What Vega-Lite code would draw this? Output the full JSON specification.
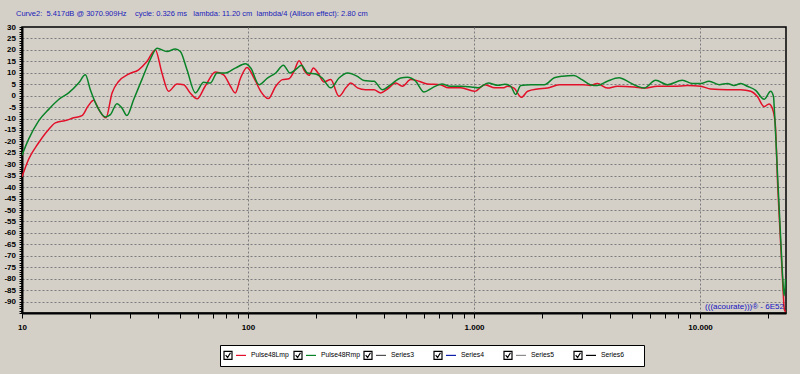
{
  "$schema": "https://vega.github.io/schema/vega-lite/v6.json",
  "autosize": "none",
  "padding": {"left": 22, "top": 27, "right": 14, "bottom": 61},
  "width": 764,
  "height": 286,
  "background": "#d4d0c8",
  "title": {
    "text": "Curve2:\u00a0 5.417dB @ 3070.909Hz\u00a0\u00a0\u00a0 cycle: 0.326 ms\u00a0\u00a0 lambda: 11.20 cm\u00a0 lambda/4 (Allison effect): 2.80 cm",
    "anchor": "start",
    "frame": "group",
    "dx": -6,
    "offset": 6,
    "font": "Liberation Sans",
    "fontSize": 7.5,
    "fontWeight": "normal",
    "color": "#1c1cb8"
  },
  "config": {
    "view": {"stroke": "black", "strokeWidth": 1.5},
    "axis": {
      "domainColor": "black",
      "domainWidth": 2,
      "tickColor": "black",
      "tickWidth": 1,
      "labelFont": "Liberation Sans",
      "labelFontSize": 8,
      "labelFontWeight": "bold",
      "labelColor": "black",
      "labelOverlap": false,
      "labelFlush": false,
      "gridColor": "#7c7c7c",
      "gridDash": [2, 2],
      "gridWidth": 1,
      "title": null
    }
  },
  "layer": [
    {
      "data": {
        "values": [
          {"s": "Pulse48Lmp", "f": 10, "db": -35.5},
          {"s": "Pulse48Lmp", "f": 10.7, "db": -27.8},
          {"s": "Pulse48Lmp", "f": 11.85, "db": -20.6},
          {"s": "Pulse48Lmp", "f": 13.12, "db": -14.8},
          {"s": "Pulse48Lmp", "f": 14.04, "db": -11.9},
          {"s": "Pulse48Lmp", "f": 15.56, "db": -10.9},
          {"s": "Pulse48Lmp", "f": 16.93, "db": -9.7},
          {"s": "Pulse48Lmp", "f": 18.43, "db": -8.7},
          {"s": "Pulse48Lmp", "f": 19.6, "db": -4.6},
          {"s": "Pulse48Lmp", "f": 20.75, "db": -2},
          {"s": "Pulse48Lmp", "f": 21.84, "db": -6},
          {"s": "Pulse48Lmp", "f": 23.52, "db": -9.7},
          {"s": "Pulse48Lmp", "f": 25.03, "db": 1.2},
          {"s": "Pulse48Lmp", "f": 26.75, "db": 6.2},
          {"s": "Pulse48Lmp", "f": 29.6, "db": 9.4},
          {"s": "Pulse48Lmp", "f": 32.8, "db": 11.3},
          {"s": "Pulse48Lmp", "f": 35.7, "db": 14.9},
          {"s": "Pulse48Lmp", "f": 38.9, "db": 20},
          {"s": "Pulse48Lmp", "f": 41.6, "db": 9.9},
          {"s": "Pulse48Lmp", "f": 44.5, "db": 1.9},
          {"s": "Pulse48Lmp", "f": 48.5, "db": 5.1},
          {"s": "Pulse48Lmp", "f": 51.9, "db": 4.8},
          {"s": "Pulse48Lmp", "f": 55.5, "db": 1.2},
          {"s": "Pulse48Lmp", "f": 59.5, "db": -1.4},
          {"s": "Pulse48Lmp", "f": 64.6, "db": 4.1},
          {"s": "Pulse48Lmp", "f": 71.8, "db": 10.3},
          {"s": "Pulse48Lmp", "f": 78, "db": 9.1},
          {"s": "Pulse48Lmp", "f": 83.6, "db": 4.1},
          {"s": "Pulse48Lmp", "f": 87.8, "db": 1.2},
          {"s": "Pulse48Lmp", "f": 92.5, "db": 7.5},
          {"s": "Pulse48Lmp", "f": 99, "db": 12.3},
          {"s": "Pulse48Lmp", "f": 106.3, "db": 7.7},
          {"s": "Pulse48Lmp", "f": 113.8, "db": 1.9},
          {"s": "Pulse48Lmp", "f": 123, "db": -1.3},
          {"s": "Pulse48Lmp", "f": 132.6, "db": 4.1},
          {"s": "Pulse48Lmp", "f": 141.9, "db": 7},
          {"s": "Pulse48Lmp", "f": 151.8, "db": 7.4},
          {"s": "Pulse48Lmp", "f": 159.8, "db": 10.6},
          {"s": "Pulse48Lmp", "f": 168.2, "db": 15.3},
          {"s": "Pulse48Lmp", "f": 178.3, "db": 10.6},
          {"s": "Pulse48Lmp", "f": 186.4, "db": 8.9},
          {"s": "Pulse48Lmp", "f": 194.6, "db": 12.1},
          {"s": "Pulse48Lmp", "f": 203.9, "db": 9.9},
          {"s": "Pulse48Lmp", "f": 216.6, "db": 6},
          {"s": "Pulse48Lmp", "f": 232.2, "db": 7},
          {"s": "Pulse48Lmp", "f": 252.6, "db": -0.3},
          {"s": "Pulse48Lmp", "f": 270.9, "db": 3.4},
          {"s": "Pulse48Lmp", "f": 285.1, "db": 5.5},
          {"s": "Pulse48Lmp", "f": 304.9, "db": 3.4},
          {"s": "Pulse48Lmp", "f": 331.5, "db": 2.6},
          {"s": "Pulse48Lmp", "f": 361, "db": 2.6},
          {"s": "Pulse48Lmp", "f": 386.1, "db": 1.2},
          {"s": "Pulse48Lmp", "f": 413.9, "db": 2.9},
          {"s": "Pulse48Lmp", "f": 450.3, "db": 5.5},
          {"s": "Pulse48Lmp", "f": 481.6, "db": 4.1},
          {"s": "Pulse48Lmp", "f": 524.4, "db": 7},
          {"s": "Pulse48Lmp", "f": 570.7, "db": 6.3},
          {"s": "Pulse48Lmp", "f": 621.3, "db": 5.1},
          {"s": "Pulse48Lmp", "f": 709.1, "db": 4.8},
          {"s": "Pulse48Lmp", "f": 770.2, "db": 3.4},
          {"s": "Pulse48Lmp", "f": 872.5, "db": 3.4},
          {"s": "Pulse48Lmp", "f": 1007, "db": 1.9},
          {"s": "Pulse48Lmp", "f": 1117, "db": 4.8},
          {"s": "Pulse48Lmp", "f": 1235, "db": 3.4},
          {"s": "Pulse48Lmp", "f": 1344, "db": 3.4},
          {"s": "Pulse48Lmp", "f": 1406, "db": 4.1},
          {"s": "Pulse48Lmp", "f": 1502, "db": 3.3},
          {"s": "Pulse48Lmp", "f": 1620, "db": -0.7},
          {"s": "Pulse48Lmp", "f": 1727, "db": 1.9},
          {"s": "Pulse48Lmp", "f": 1912, "db": 2.9},
          {"s": "Pulse48Lmp", "f": 2116, "db": 3.3},
          {"s": "Pulse48Lmp", "f": 2382, "db": 4.8},
          {"s": "Pulse48Lmp", "f": 2719, "db": 4.8},
          {"s": "Pulse48Lmp", "f": 3052, "db": 4.8},
          {"s": "Pulse48Lmp", "f": 3268, "db": 4.4},
          {"s": "Pulse48Lmp", "f": 3507, "db": 5.3},
          {"s": "Pulse48Lmp", "f": 3888, "db": 3.3},
          {"s": "Pulse48Lmp", "f": 4307, "db": 4.1},
          {"s": "Pulse48Lmp", "f": 5106, "db": 3.8},
          {"s": "Pulse48Lmp", "f": 5650, "db": 3.3},
          {"s": "Pulse48Lmp", "f": 6471, "db": 4.1},
          {"s": "Pulse48Lmp", "f": 7672, "db": 4.1},
          {"s": "Pulse48Lmp", "f": 8791, "db": 4.4},
          {"s": "Pulse48Lmp", "f": 10068, "db": 4.1},
          {"s": "Pulse48Lmp", "f": 11148, "db": 2.9},
          {"s": "Pulse48Lmp", "f": 13210, "db": 2.6},
          {"s": "Pulse48Lmp", "f": 15130, "db": 2.6},
          {"s": "Pulse48Lmp", "f": 16760, "db": 1.9},
          {"s": "Pulse48Lmp", "f": 17930, "db": -0.4},
          {"s": "Pulse48Lmp", "f": 19190, "db": -4.8},
          {"s": "Pulse48Lmp", "f": 20180, "db": -3.6},
          {"s": "Pulse48Lmp", "f": 20890, "db": -5.6},
          {"s": "Pulse48Lmp", "f": 21500, "db": -12},
          {"s": "Pulse48Lmp", "f": 22070, "db": -40},
          {"s": "Pulse48Lmp", "f": 22820, "db": -68},
          {"s": "Pulse48Lmp", "f": 23300, "db": -85},
          {"s": "Pulse48Lmp", "f": 23600, "db": -93.5},
          {"s": "Pulse48Lmp", "f": 23900, "db": -94.5},
          {"s": "Pulse48Rmp", "f": 10, "db": -26},
          {"s": "Pulse48Rmp", "f": 10.7, "db": -19},
          {"s": "Pulse48Rmp", "f": 11.85, "db": -11},
          {"s": "Pulse48Rmp", "f": 13.12, "db": -6},
          {"s": "Pulse48Rmp", "f": 14.53, "db": -1.7},
          {"s": "Pulse48Rmp", "f": 16.08, "db": 1.2},
          {"s": "Pulse48Rmp", "f": 17.81, "db": 5.5},
          {"s": "Pulse48Rmp", "f": 19.07, "db": 9.1},
          {"s": "Pulse48Rmp", "f": 20.06, "db": 2.6},
          {"s": "Pulse48Rmp", "f": 21.47, "db": -4.6},
          {"s": "Pulse48Rmp", "f": 23.36, "db": -9.3},
          {"s": "Pulse48Rmp", "f": 24.61, "db": -8.3},
          {"s": "Pulse48Rmp", "f": 26.3, "db": -3.5},
          {"s": "Pulse48Rmp", "f": 27.68, "db": -5.4},
          {"s": "Pulse48Rmp", "f": 29.1, "db": -8.7},
          {"s": "Pulse48Rmp", "f": 31.2, "db": -1.7},
          {"s": "Pulse48Rmp", "f": 33.9, "db": 7},
          {"s": "Pulse48Rmp", "f": 36.9, "db": 15.7},
          {"s": "Pulse48Rmp", "f": 39.6, "db": 20.7},
          {"s": "Pulse48Rmp", "f": 43.8, "db": 19.3},
          {"s": "Pulse48Rmp", "f": 47.7, "db": 20.4},
          {"s": "Pulse48Rmp", "f": 50.2, "db": 19.3},
          {"s": "Pulse48Rmp", "f": 53.7, "db": 11.3},
          {"s": "Pulse48Rmp", "f": 58.5, "db": 1.2},
          {"s": "Pulse48Rmp", "f": 63.6, "db": 5.8},
          {"s": "Pulse48Rmp", "f": 68.1, "db": 5.5},
          {"s": "Pulse48Rmp", "f": 73, "db": 9.9},
          {"s": "Pulse48Rmp", "f": 79.3, "db": 9.9},
          {"s": "Pulse48Rmp", "f": 87.8, "db": 12},
          {"s": "Pulse48Rmp", "f": 97.3, "db": 13.9},
          {"s": "Pulse48Rmp", "f": 102.8, "db": 12.1},
          {"s": "Pulse48Rmp", "f": 111.9, "db": 4.8},
          {"s": "Pulse48Rmp", "f": 121.8, "db": 7.7},
          {"s": "Pulse48Rmp", "f": 132.6, "db": 9.9},
          {"s": "Pulse48Rmp", "f": 143.3, "db": 13.3},
          {"s": "Pulse48Rmp", "f": 153.4, "db": 9.9},
          {"s": "Pulse48Rmp", "f": 164.2, "db": 11.8},
          {"s": "Pulse48Rmp", "f": 172.3, "db": 13.3},
          {"s": "Pulse48Rmp", "f": 183.3, "db": 9.9},
          {"s": "Pulse48Rmp", "f": 199.2, "db": 9.5},
          {"s": "Pulse48Rmp", "f": 213, "db": 7.7},
          {"s": "Pulse48Rmp", "f": 232.2, "db": 3.4},
          {"s": "Pulse48Rmp", "f": 252.6, "db": 7.7},
          {"s": "Pulse48Rmp", "f": 275.6, "db": 9.9},
          {"s": "Pulse48Rmp", "f": 304.9, "db": 8.4},
          {"s": "Pulse48Rmp", "f": 325.9, "db": 6.6},
          {"s": "Pulse48Rmp", "f": 361, "db": 6.3},
          {"s": "Pulse48Rmp", "f": 392.7, "db": 2.6},
          {"s": "Pulse48Rmp", "f": 428.2, "db": 4.8},
          {"s": "Pulse48Rmp", "f": 473.6, "db": 7.7},
          {"s": "Pulse48Rmp", "f": 507.1, "db": 8},
          {"s": "Pulse48Rmp", "f": 551.8, "db": 6.3},
          {"s": "Pulse48Rmp", "f": 600.7, "db": 1.6},
          {"s": "Pulse48Rmp", "f": 653.6, "db": 3.4},
          {"s": "Pulse48Rmp", "f": 720.9, "db": 5.1},
          {"s": "Pulse48Rmp", "f": 783, "db": 4.1},
          {"s": "Pulse48Rmp", "f": 872.5, "db": 4.1},
          {"s": "Pulse48Rmp", "f": 971.9, "db": 3.8},
          {"s": "Pulse48Rmp", "f": 1043, "db": 3.4},
          {"s": "Pulse48Rmp", "f": 1155, "db": 5.5},
          {"s": "Pulse48Rmp", "f": 1279, "db": 4.5},
          {"s": "Pulse48Rmp", "f": 1368, "db": 5},
          {"s": "Pulse48Rmp", "f": 1453, "db": 4.1},
          {"s": "Pulse48Rmp", "f": 1528, "db": 0.5},
          {"s": "Pulse48Rmp", "f": 1609, "db": 4.4},
          {"s": "Pulse48Rmp", "f": 1787, "db": 4.8},
          {"s": "Pulse48Rmp", "f": 2046, "db": 4.8},
          {"s": "Pulse48Rmp", "f": 2265, "db": 7.8},
          {"s": "Pulse48Rmp", "f": 2465, "db": 8.5},
          {"s": "Pulse48Rmp", "f": 2766, "db": 8.8},
          {"s": "Pulse48Rmp", "f": 3001, "db": 7},
          {"s": "Pulse48Rmp", "f": 3268, "db": 4.8},
          {"s": "Pulse48Rmp", "f": 3507, "db": 4.4},
          {"s": "Pulse48Rmp", "f": 3888, "db": 6.3},
          {"s": "Pulse48Rmp", "f": 4380, "db": 7.8},
          {"s": "Pulse48Rmp", "f": 4850, "db": 5.9},
          {"s": "Pulse48Rmp", "f": 5281, "db": 4.1},
          {"s": "Pulse48Rmp", "f": 5650, "db": 3.3},
          {"s": "Pulse48Rmp", "f": 6362, "db": 6.7},
          {"s": "Pulse48Rmp", "f": 7168, "db": 4.8},
          {"s": "Pulse48Rmp", "f": 8351, "db": 6.7},
          {"s": "Pulse48Rmp", "f": 9249, "db": 5.3},
          {"s": "Pulse48Rmp", "f": 10068, "db": 5.3},
          {"s": "Pulse48Rmp", "f": 10960, "db": 6.3},
          {"s": "Pulse48Rmp", "f": 12135, "db": 4.8},
          {"s": "Pulse48Rmp", "f": 13210, "db": 5.3},
          {"s": "Pulse48Rmp", "f": 14140, "db": 4.4},
          {"s": "Pulse48Rmp", "f": 15130, "db": 5.3},
          {"s": "Pulse48Rmp", "f": 16200, "db": 4.1},
          {"s": "Pulse48Rmp", "f": 17620, "db": 2.3},
          {"s": "Pulse48Rmp", "f": 19190, "db": -1.6},
          {"s": "Pulse48Rmp", "f": 20540, "db": 1.9},
          {"s": "Pulse48Rmp", "f": 21130, "db": -0.4},
          {"s": "Pulse48Rmp", "f": 21310, "db": -6},
          {"s": "Pulse48Rmp", "f": 22070, "db": -36.6},
          {"s": "Pulse48Rmp", "f": 22820, "db": -65.7},
          {"s": "Pulse48Rmp", "f": 23220, "db": -80},
          {"s": "Pulse48Rmp", "f": 23550, "db": -87.5},
          {"s": "Pulse48Rmp", "f": 23890, "db": -80}
        ]
      },
      "mark": {"type": "line", "strokeWidth": 1.5, "interpolate": "monotone", "clip": true},
      "encoding": {
        "x": {
          "field": "f",
          "type": "quantitative",
          "scale": {"type": "log", "domain": [10, 24000], "nice": false},
          "axis": {
            "values": [10, 20, 30, 40, 50, 60, 70, 80, 90, 100, 200, 300, 400, 500, 600, 700, 800, 900, 1000, 2000, 3000, 4000, 5000, 6000, 7000, 8000, 9000, 10000, 20000],
            "tickCount": 500,
            "labelExpr": "(datum.value == 10 || datum.value == 100 || datum.value == 1000 || datum.value == 10000) ? replace(format(datum.value, ','), ',', '.') : ''",
            "tickSize": 5,
            "labelPadding": 5,
            "gridOpacity": {"condition": {"test": "datum.value == 100 || datum.value == 1000 || datum.value == 10000", "value": 1}, "value": 0}
          }
        },
        "y": {
          "field": "db",
          "type": "quantitative",
          "scale": {"domain": [-95, 30], "nice": false, "zero": false},
          "axis": {
            "values": [-95, -94, -93, -92, -91, -90, -89, -88, -87, -86, -85, -84, -83, -82, -81, -80, -79, -78, -77, -76, -75, -74, -73, -72, -71, -70, -69, -68, -67, -66, -65, -64, -63, -62, -61, -60, -59, -58, -57, -56, -55, -54, -53, -52, -51, -50, -49, -48, -47, -46, -45, -44, -43, -42, -41, -40, -39, -38, -37, -36, -35, -34, -33, -32, -31, -30, -29, -28, -27, -26, -25, -24, -23, -22, -21, -20, -19, -18, -17, -16, -15, -14, -13, -12, -11, -10, -9, -8, -7, -6, -5, -4, -3, -2, -1, 0, 1, 2, 3, 4, 5, 6, 7, 8, 9, 10, 11, 12, 13, 14, 15, 16, 17, 18, 19, 20, 21, 22, 23, 24, 25, 26, 27, 28, 29, 30],
            "tickCount": 500,
            "labelExpr": "(datum.value % 5 === 0 && datum.value > -95) ? '' + datum.value : ''",
            "tickSize": 3,
            "labelPadding": 3.5,
            "gridOpacity": {"condition": {"test": "datum.value % 5 === 0 && datum.value > -95 && datum.value < 30", "value": 1}, "value": 0}
          }
        },
        "stroke": {
          "field": "s",
          "type": "nominal",
          "scale": {
            "domain": ["Pulse48Lmp", "Pulse48Rmp", "Series3", "Series4", "Series5", "Series6"],
            "range": ["#e2102a", "#0a8228", "#505050", "#1020a8", "#8c8c8c", "#000000"]
          },
          "legend": {
            "orient": "none",
            "legendX": 198,
            "legendY": 318,
            "direction": "horizontal",
            "columns": 6,
            "gridAlign": "all",
            "title": null,
            "symbolType": "M -1 -0.8 M 9.64 0.8 M 1 0 H 2.667",
            "symbolSize": 144,
            "symbolStrokeWidth": 1.2,
            "labelOffset": 14,
            "labelFont": "Liberation Sans",
            "labelFontSize": 6.8,
            "labelColor": "black",
            "columnPadding": 0,
            "padding": 3,
            "fillColor": "white",
            "strokeColor": "black",
            "encode": {
              "symbols": {
                "update": {
                  "stroke": {"signal": "datum.value == 'Pulse48Lmp' ? '#b01030' : datum.value == 'Pulse48Rmp' ? '#0c6a34' : datum.value == 'Series3' ? '#505050' : datum.value == 'Series4' ? '#1020a8' : datum.value == 'Series5' ? '#8c8c8c' : '#000000'"}
                }
              }
            }
          }
        }
      }
    },
    {
      "data": {"values": []},
      "mark": {"type": "point", "filled": false, "color": "black", "opacity": 1},
      "encoding": {
        "shape": {
          "field": "box",
          "type": "nominal",
          "scale": {
            "domain": ["b1", "b2", "b3", "b4", "b5", "b6"],
            "range": [
              "M -1 -0.8 M 9.64 0.8 M -1 -0.667 H 0.333 V 0.667 H -1 Z M -0.72 -0.05 L -0.4 0.35 L 0.08 -0.45",
              "M -1 -0.8 M 9.64 0.8 M -1 -0.667 H 0.333 V 0.667 H -1 Z M -0.72 -0.05 L -0.4 0.35 L 0.08 -0.45",
              "M -1 -0.8 M 9.64 0.8 M -1 -0.667 H 0.333 V 0.667 H -1 Z M -0.72 -0.05 L -0.4 0.35 L 0.08 -0.45",
              "M -1 -0.8 M 9.64 0.8 M -1 -0.667 H 0.333 V 0.667 H -1 Z M -0.72 -0.05 L -0.4 0.35 L 0.08 -0.45",
              "M -1 -0.8 M 9.64 0.8 M -1 -0.667 H 0.333 V 0.667 H -1 Z M -0.72 -0.05 L -0.4 0.35 L 0.08 -0.45",
              "M -1 -0.8 M 9.64 0.8 M -1 -0.667 H 0.333 V 0.667 H -1 Z M -0.72 -0.05 L -0.4 0.35 L 0.08 -0.45"
            ]
          },
          "legend": {
            "orient": "none",
            "legendX": 198,
            "legendY": 318,
            "direction": "horizontal",
            "columns": 6,
            "gridAlign": "all",
            "title": null,
            "labelExpr": "''",
            "symbolSize": 144,
            "symbolStrokeWidth": 1.2,
            "symbolStrokeColor": "black",
            "symbolFillColor": "transparent",
            "symbolOpacity": 1,
            "labelOffset": 14,
            "labelFont": "Liberation Sans",
            "labelFontSize": 6.8,
            "columnPadding": 0,
            "padding": 3,
            "zindex": 2
          }
        }
      }
    },
    {
      "data": {"values": [{}]},
      "mark": {
        "type": "text",
        "text": "(((acourate)))® - 6E52",
        "align": "right",
        "baseline": "alphabetic",
        "font": "Liberation Sans",
        "fontSize": 8,
        "color": "#1414c0"
      },
      "encoding": {
        "x": {"datum": 23500},
        "y": {"datum": -93.4}
      }
    }
  ]
}
